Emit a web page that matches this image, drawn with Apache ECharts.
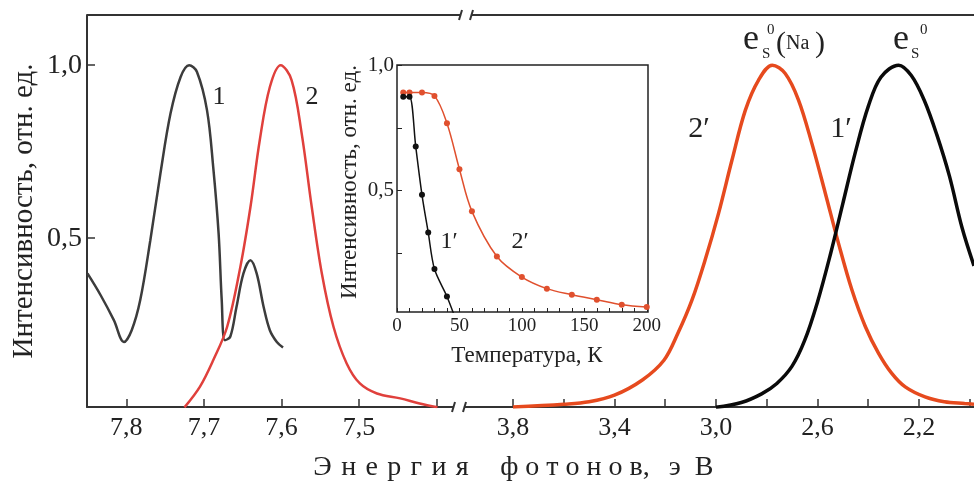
<!DOCTYPE html>
<html>
<head>
<meta charset="utf-8">
<script src="https://cdn.jsdelivr.net/npm/echarts@6/dist/echarts.min.js"></script>
<style>
  html, body { margin: 0; padding: 0; background: #fff; }
  #chart { width: 974px; height: 488px; }
</style>
</head>
<body>
<div id="chart"></div>
<script>
// ---- left panel: 7.4 - 7.85 eV ----
var energy1 = [7.850, 7.833, 7.816, 7.803, 7.793, 7.782, 7.769, 7.756, 7.743, 7.730, 7.719, 7.709, 7.696, 7.688, 7.681, 7.677, 7.673, 7.666, 7.658, 7.649, 7.640, 7.632, 7.623, 7.615, 7.606, 7.598];
var curve1 = [0.398, 0.335, 0.263, 0.200, 0.234, 0.321, 0.494, 0.687, 0.860, 0.966, 1.000, 0.981, 0.870, 0.706, 0.513, 0.321, 0.205, 0.215, 0.301, 0.398, 0.436, 0.398, 0.301, 0.234, 0.200, 0.184];

var energy2 = [7.725, 7.705, 7.688, 7.670, 7.653, 7.640, 7.628, 7.615, 7.601, 7.587, 7.574, 7.561, 7.548, 7.533, 7.516, 7.499, 7.477, 7.447, 7.422, 7.399];
var curve2 = [0.011, 0.071, 0.147, 0.244, 0.417, 0.590, 0.783, 0.937, 1.000, 0.957, 0.803, 0.590, 0.398, 0.244, 0.138, 0.080, 0.051, 0.037, 0.022, 0.011];

// ---- right panel: 2.0 - 4.0 eV ----
var energy2p = [3.80, 3.60, 3.50, 3.40, 3.29, 3.205, 3.15, 3.095, 3.043, 2.99, 2.937, 2.884, 2.832, 2.778, 2.727, 2.675, 2.622, 2.569, 2.517, 2.464, 2.411, 2.359, 2.307, 2.254, 2.176, 2.10, 2.02, 1.983];
var curve2p = [0.012, 0.020, 0.027, 0.046, 0.090, 0.147, 0.225, 0.320, 0.436, 0.571, 0.725, 0.870, 0.957, 1.000, 0.976, 0.900, 0.774, 0.630, 0.485, 0.350, 0.244, 0.167, 0.109, 0.070, 0.041, 0.027, 0.022, 0.020];

var energy1p = [3.00, 2.90, 2.82, 2.76, 2.70, 2.65, 2.60, 2.55, 2.50, 2.45, 2.40, 2.35, 2.28, 2.23, 2.18, 2.13, 2.08, 2.03, 1.983];
var curve1p = [0.011, 0.025, 0.050, 0.080, 0.130, 0.205, 0.315, 0.450, 0.600, 0.750, 0.880, 0.965, 1.000, 0.970, 0.900, 0.800, 0.680, 0.530, 0.420];

// ---- inset: temperature dependence ----
var temp1 = [5, 10, 15, 20, 25, 30, 40, 46];
var inset1 = [0.874, 0.874, 0.675, 0.483, 0.333, 0.187, 0.078, 0.0];
var temp2 = [5, 10, 20, 30, 40, 50, 60, 80, 100, 120, 140, 160, 180, 200];
var inset2 = [0.89, 0.89, 0.89, 0.877, 0.768, 0.585, 0.417, 0.237, 0.155, 0.109, 0.085, 0.065, 0.045, 0.036];

// ticks
var leftTicks = [7.4, 7.5, 7.6, 7.7, 7.8];
var leftLabels = [7.5, 7.6, 7.7, 7.8];
var rightTicks = [3.8, 3.6, 3.4, 3.2, 3.0, 2.8, 2.6, 2.4, 2.2, 2.0];
var rightLabels = [3.8, 3.4, 3.0, 2.6, 2.2];
var yLabels = [0.5, 1.0];
var insetXTicks = [0, 10, 20, 30, 40, 50, 60, 70, 80, 90, 100, 110, 120, 130, 140, 150, 160, 170, 180, 190, 200];
var insetXLabels = [0, 50, 100, 150, 200];
var insetYTicks = [0.25, 0.5, 0.75, 1.0];
var insetYLabels = [0.5, 1.0];

function zip(xs, ys) {
  return xs.map(function (x, i) { return [x, ys[i]]; });
}
function comma(v) {
  return v.toFixed(1).replace('.', ',');
}
function label(x, y, text, size, valign) {
  return {
    type: 'text', x: x, y: y,
    style: { text: text, font: size + 'px "Liberation Serif"', fill: '#222', align: valign ? 'left' : 'center', verticalAlign: valign || 'middle' }
  };
}

var serif = 'Liberation Serif';
var axisColor = '#333';

var chart = echarts.init(document.getElementById('chart'));

var option = {
  backgroundColor: '#fff',
  animation: false,
  textStyle: { fontFamily: serif },
  grid: [
    { left: 87, top: 15, width: 366, height: 392 },
    { left: 465, top: 15, width: 509, height: 392 },
    { left: 397, top: 65, width: 251, height: 247, show: true, borderColor: '#222', borderWidth: 1.5, backgroundColor: 'rgba(255,255,255,0)' }
  ],
  xAxis: [
    {
      gridIndex: 0, type: 'value', min: 7.379, max: 7.8506, inverse: true,
      axisLine: { lineStyle: { color: axisColor, width: 2 } },
      axisTick: { inside: true, length: 8, lineStyle: { color: axisColor, width: 1.5 }, customValues: leftTicks },
      axisLabel: { customValues: leftLabels, formatter: comma, fontSize: 26, color: '#222', margin: 8, fontFamily: serif },
      splitLine: { show: false }
    },
    {
      gridIndex: 1, type: 'value', min: 1.983, max: 3.989, inverse: true,
      axisLine: { lineStyle: { color: axisColor, width: 2 } },
      axisTick: { inside: true, length: 8, lineStyle: { color: axisColor, width: 1.5 }, customValues: rightTicks },
      axisLabel: { customValues: rightLabels, formatter: comma, fontSize: 26, color: '#222', margin: 8, fontFamily: serif },
      splitLine: { show: false }
    },
    {
      gridIndex: 2, type: 'value', min: 0, max: 201,
      axisLine: { show: false },
      axisTick: { inside: true, length: 4, lineStyle: { color: '#222', width: 1 }, customValues: insetXTicks },
      axisLabel: { customValues: insetXLabels, fontSize: 19, color: '#222', margin: 5, fontFamily: serif },
      splitLine: { show: false }
    }
  ],
  yAxis: [
    {
      gridIndex: 0, type: 'value', min: 0.012, max: 1.145,
      name: 'Интенсивность, отн. ед.', nameLocation: 'middle', nameGap: 48,
      nameTextStyle: { fontSize: 29, color: '#222', fontFamily: serif },
      axisLine: { show: true, lineStyle: { color: axisColor, width: 2 } },
      axisTick: { inside: true, length: 8, lineStyle: { color: axisColor, width: 1.5 }, customValues: yLabels },
      axisLabel: { customValues: yLabels, formatter: comma, fontSize: 28, color: '#222', margin: 5, fontFamily: serif },
      splitLine: { show: false }
    },
    {
      gridIndex: 1, type: 'value', min: 0.012, max: 1.145,
      show: false
    },
    {
      gridIndex: 2, type: 'value', min: 0.016, max: 1.0,
      axisLine: { show: false },
      axisTick: { inside: true, length: 5, lineStyle: { color: '#222', width: 1 }, customValues: insetYTicks },
      axisLabel: { customValues: insetYLabels, formatter: comma, fontSize: 21, color: '#222', margin: 3, fontFamily: serif },
      splitLine: { show: false }
    }
  ],
  series: [
    {
      name: '1', type: 'line', xAxisIndex: 0, yAxisIndex: 0, data: zip(energy1, curve1),
      smooth: 0.35, showSymbol: false, lineStyle: { color: '#3c3c3c', width: 2.5 }
    },
    {
      name: '2', type: 'line', xAxisIndex: 0, yAxisIndex: 0, data: zip(energy2, curve2),
      smooth: 0.35, showSymbol: false, lineStyle: { color: '#e0403c', width: 2.5 }
    },
    {
      name: "2'", type: 'line', xAxisIndex: 1, yAxisIndex: 1, data: zip(energy2p, curve2p),
      smooth: 0.35, showSymbol: false, lineStyle: { color: '#e64a1e', width: 3.5 }
    },
    {
      name: "1'", type: 'line', xAxisIndex: 1, yAxisIndex: 1, data: zip(energy1p, curve1p),
      smooth: 0.35, showSymbol: false, lineStyle: { color: '#0a0a0a', width: 3.5 }
    },
    {
      name: "2' inset", type: 'line', xAxisIndex: 2, yAxisIndex: 2, data: zip(temp2, inset2),
      smooth: 0.35, symbol: 'circle', symbolSize: 6,
      lineStyle: { color: '#e0502e', width: 1.5 }, itemStyle: { color: '#e0502e' }
    },
    {
      name: "1' inset", type: 'line', xAxisIndex: 2, yAxisIndex: 2, data: zip(temp1, inset1),
      smooth: 0.3, symbol: 'circle', symbolSize: 6,
      lineStyle: { color: '#111', width: 1.5 }, itemStyle: { color: '#111' }
    }
  ],
  graphic: [
    // frame top lines with axis break
    { type: 'line', shape: { x1: 87, y1: 15, x2: 461, y2: 15 }, style: { stroke: axisColor, lineWidth: 2 } },
    { type: 'line', shape: { x1: 472, y1: 15, x2: 974, y2: 15 }, style: { stroke: axisColor, lineWidth: 2 } },
    { type: 'line', shape: { x1: 459, y1: 20, x2: 462, y2: 10 }, style: { stroke: axisColor, lineWidth: 2 } },
    { type: 'line', shape: { x1: 470, y1: 20, x2: 473, y2: 10 }, style: { stroke: axisColor, lineWidth: 2 } },
    // bottom break marks
    { type: 'line', shape: { x1: 452, y1: 412, x2: 455, y2: 402 }, style: { stroke: axisColor, lineWidth: 2 } },
    { type: 'line', shape: { x1: 463, y1: 412, x2: 466, y2: 402 }, style: { stroke: axisColor, lineWidth: 2 } },
    // x axis title, spaced out
    label(391, 468, 'Э\u200A н\u200A е\u200A р\u200A г\u200A и\u200A я', 28),
    label(575, 468, 'ф о т о н о в,', 28),
    label(691, 468, 'э  В', 28),
    // inset axis titles
    {
      type: 'text', x: 350, y: 182, rotation: Math.PI / 2,
      style: { text: 'Интенсивность, отн. ед.', font: '23px "Liberation Serif"', fill: '#222', align: 'center', verticalAlign: 'middle' }
    },
    label(527, 356, 'Температура, К', 23),
    // curve labels
    label(219, 97, '1', 26),
    label(312, 97, '2', 26),
    label(699, 129, '2′', 30),
    label(841, 129, '1′', 30),
    label(449, 242, '1′', 24),
    label(520, 242, '2′', 24),
    // e_S^0(Na)
    label(743, 58, 'e', 36, 'bottom'),
    label(762, 62, 'S', 15, 'bottom'),
    label(767, 38, '0', 15, 'bottom'),
    label(776, 59, '(', 30, 'bottom'),
    label(786, 54, 'Na', 20, 'bottom'),
    label(815, 59, ')', 30, 'bottom'),
    // e_S^0
    label(893, 58, 'e', 36, 'bottom'),
    label(911, 62, 'S', 15, 'bottom'),
    label(920, 38, '0', 15, 'bottom')
  ]
};

chart.setOption(option);
</script>
</body>
</html>
